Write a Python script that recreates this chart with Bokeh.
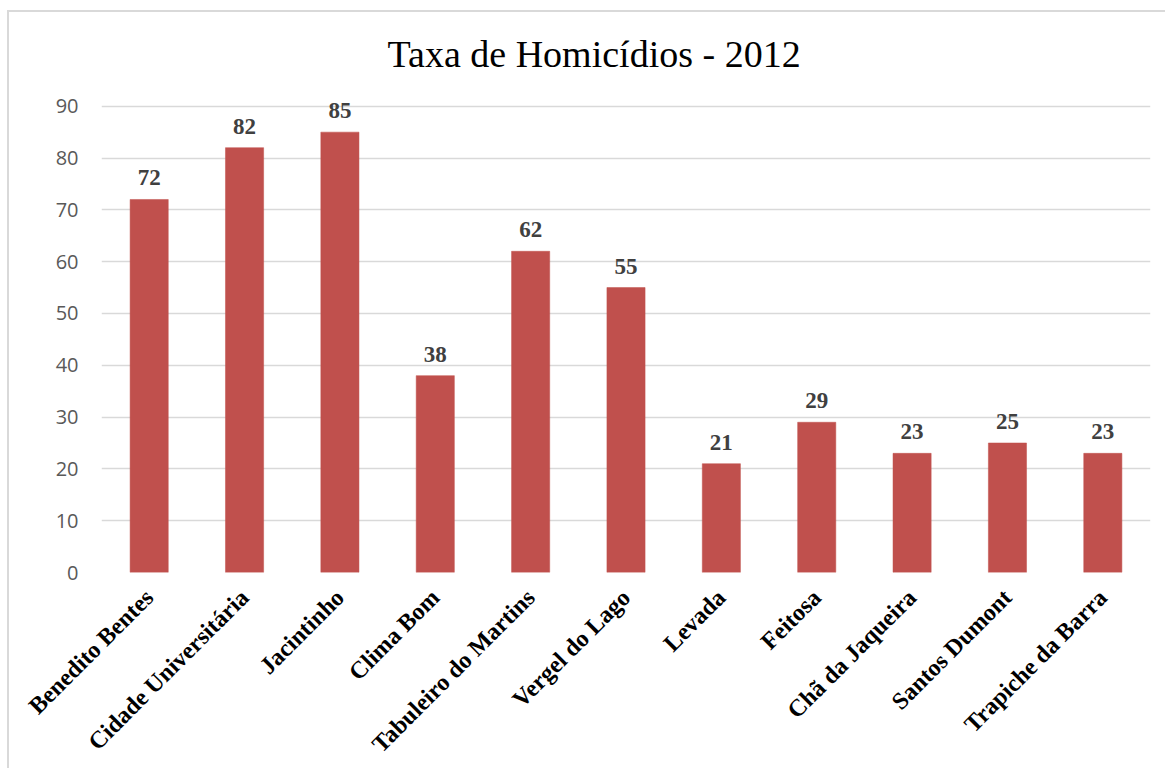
from bokeh.plotting import figure
from bokeh.models import (ColumnDataSource, FactorRange, Range1d, FixedTicker,
                          LabelSet)
from bokeh.embed import file_html
from bokeh.resources import INLINE
import math

# ---- data ----
bairros = ["Benedito Bentes", "Cidade Universitária", "Jacintinho", "Clima Bom",
           "Tabuleiro do Martins", "Vergel do Lago", "Levada", "Feitosa",
           "Chã da Jaqueira", "Santos Dumont", "Trapiche da Barra"]
taxas = [72, 82, 85, 38, 62, 55, 21, 29, 23, 25, 23]
y_ticks = [0, 10, 20, 30, 40, 50, 60, 70, 80, 90]
chart_title = "Taxa de Homicídios - 2012"

source = ColumnDataSource(dict(x=bairros, top=taxas,
                               label=[str(v) for v in taxas]))

p = figure(x_range=FactorRange(factors=bairros, range_padding=0),
           y_range=Range1d(0, 94),
           width=1158, height=758,
           output_backend="svg", toolbar_location=None,
           min_border_left=92, min_border_right=17,
           min_border_top=73, min_border_bottom=198,
           background_fill_color="white", border_fill_color="white")
p.styles = {"border-left": "2px solid #d9d9d9", "border-top": "2px solid #d9d9d9",
            "margin-top": "10px", "margin-left": "7px"}
p.outline_line_color = None

p.title.text = chart_title
p.title.align = "left"
p.title.offset = 286
p.title.standoff = 21
p.title.text_font = "Liberation Serif"
p.title.text_font_style = "normal"
p.title.text_font_size = "38px"
p.title.text_color = "#000000"

p.vbar(x="x", top="top", width=0.4, source=source,
       fill_color="#C0504D", line_color="#C0504D", line_width=0.5)

labels = LabelSet(x="x", y="top", text="label", source=source,
                  text_align="center", text_baseline="alphabetic", y_offset=14,
                  text_font="Liberation Serif", text_font_style="bold",
                  text_font_size="23px", text_color="#404040")
p.add_layout(labels)

# y axis
p.yaxis.ticker = FixedTicker(ticks=y_ticks)
p.yaxis.axis_line_color = None
p.yaxis.major_tick_line_color = None
p.yaxis.minor_tick_line_color = None
p.yaxis.major_tick_out = 0
p.yaxis.major_tick_in = 0
p.yaxis.major_label_standoff = 23
p.yaxis.major_label_text_font = "Open Sans"
p.yaxis.major_label_text_font_size = "20px"
p.yaxis.major_label_text_color = "#595959"

# x axis
p.xaxis.axis_line_color = None
p.xaxis.major_tick_line_color = None
p.xaxis.major_tick_out = 0
p.xaxis.major_tick_in = 0
p.xaxis.major_label_orientation = math.pi / 4
p.xaxis.major_label_standoff = 21
p.xaxis.major_label_text_font = "Liberation Serif"
p.xaxis.major_label_text_font_style = "bold"
p.xaxis.major_label_text_font_size = "24px"
p.xaxis.major_label_text_color = "#000000"

p.xgrid.grid_line_color = None
p.ygrid.ticker = FixedTicker(ticks=y_ticks)
p.ygrid.grid_line_color = "#d9d9d9"
p.ygrid.grid_line_width = 1.5

open("out.html", "w").write(file_html(p, INLINE))
